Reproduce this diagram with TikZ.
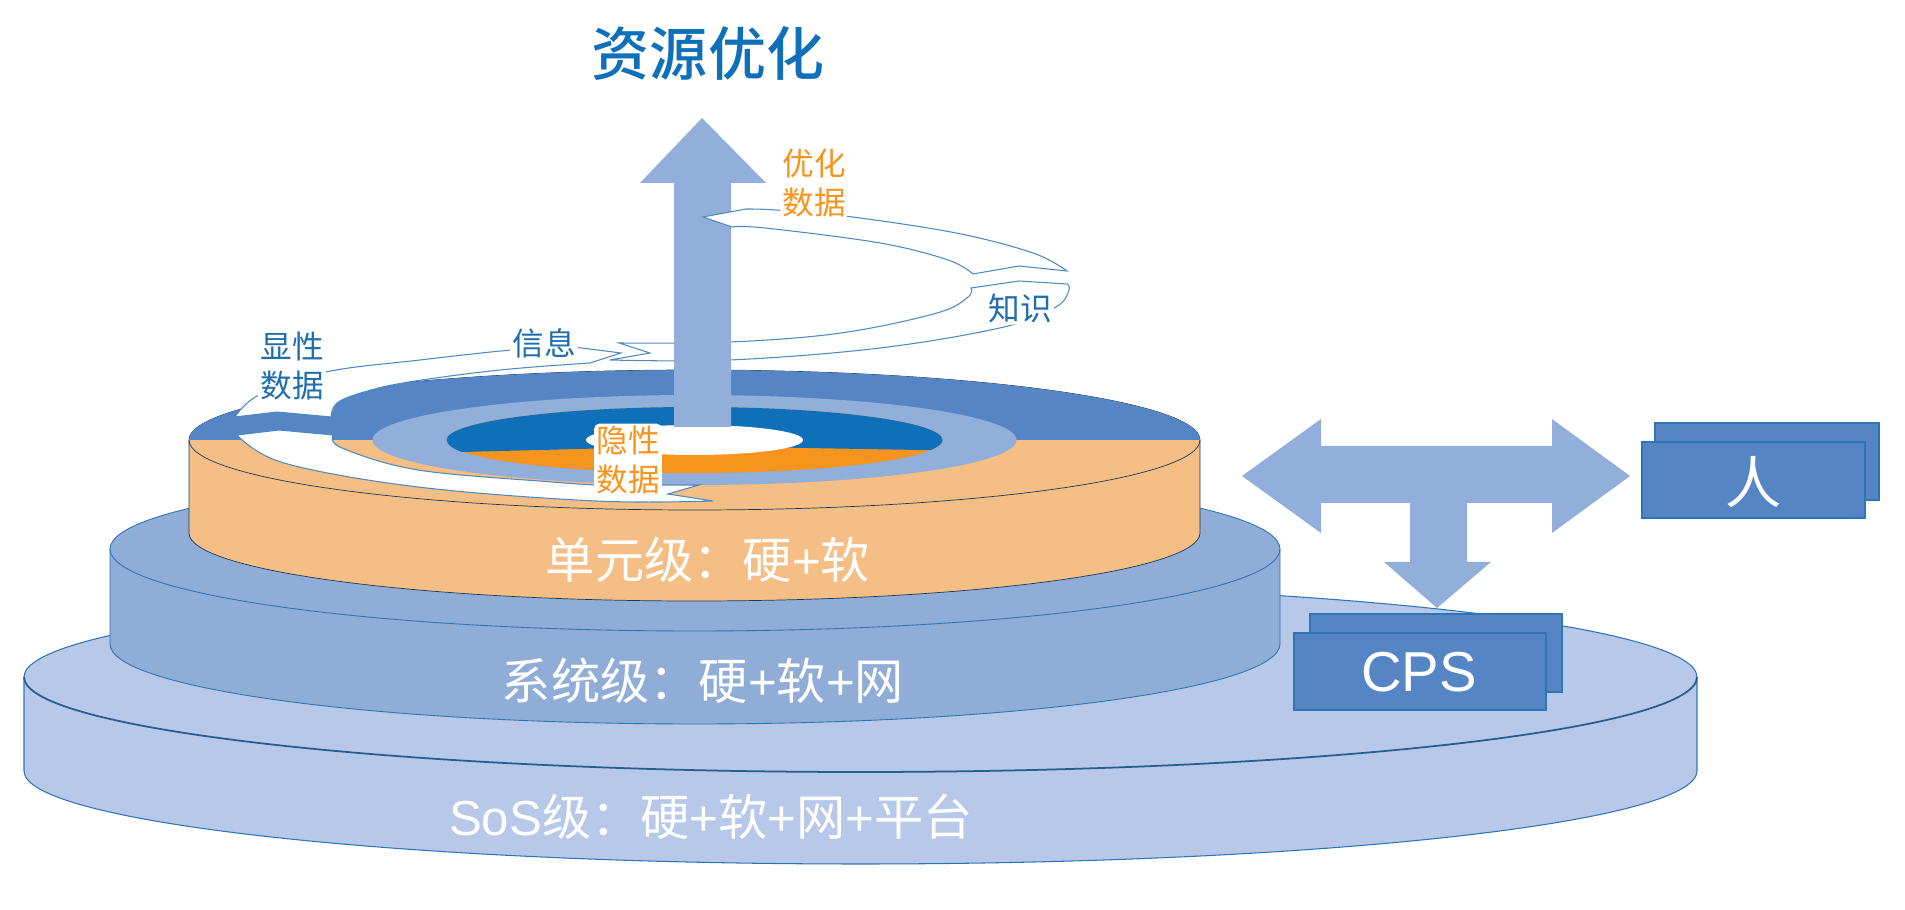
\documentclass[tikz,border=0pt]{standalone}
\usepackage{fontspec}
\setmainfont{Liberation Sans}
\newfontfamily\cjk{Noto Sans CJK SC}
\newfontfamily\cjkmid[UprightFont=* Medium]{Noto Sans CJK SC}
\usepackage{tikz}
\usetikzlibrary{calc}
\usetikzlibrary{positioning}
\definecolor{sosblue}{HTML}{B7C8E8}
\definecolor{sysblue}{HTML}{8FADD7}
\definecolor{unitorange}{HTML}{F4BE85}
\definecolor{ringblue}{HTML}{5585C5}
\definecolor{paleblue}{HTML}{92AEDA}
\definecolor{deepblue}{HTML}{0F70BA}
\definecolor{deeporange}{HTML}{F7941D}
\definecolor{edgeblue}{HTML}{2E75B6}
\definecolor{textblue}{HTML}{1F6EAD}
\tikzstyle{sosdisc}=[fill=sosblue, draw=edgeblue, line width=0.3pt]
\tikzstyle{sysdisc}=[fill=sysblue, draw=edgeblue, line width=0.25pt]
\tikzstyle{unitdisc}=[fill=unitorange, draw=black!50!edgeblue, line width=0.2pt]
\tikzstyle{frontarc}=[draw=edgeblue!80!black, line width=0.5pt]
\tikzstyle{band}=[fill=white, draw=edgeblue!85, line width=0.3pt, line join=miter]
\tikzstyle{bigarrow}=[fill=paleblue, draw=none]
\tikzstyle{box}=[fill=ringblue, draw=edgeblue, line width=0.45pt]
\tikzstyle{levellabel}=[text=white, font=\fontsize{14}{16}\selectfont, inner sep=0pt]
\tikzstyle{boxlabel}=[text=white, font=\fontsize{16}{18}\selectfont, inner sep=0pt]
\tikzstyle{bluelabel}=[text=textblue, fill=white, align=center, inner sep=0.6pt, rounded corners=1.5pt, font=\cjk\fontsize{9}{11.2}\selectfont]
\tikzstyle{orangelabel}=[bluelabel, text=deeporange]
\begin{document}
\begin{tikzpicture}[x=0.01cm,y=-0.01cm]
\useasboundingbox (0,0) rectangle (1905,910);

% three stacked discs
\path[sosdisc] (24,677) -- (24,771) arc[start angle=180,end angle=0,x radius=836.5,y radius=93] -- (1697,677) arc[start angle=0,end angle=-180,x radius=836.5,y radius=94] -- cycle;
\draw[frontarc] (24,677) arc[start angle=180,end angle=0,x radius=836.5,y radius=95];
\path[sysdisc] (110,549) -- (110,644) arc[start angle=180,end angle=0,x radius=585,y radius=80] -- (1280,549) arc[start angle=0,end angle=-180,x radius=585,y radius=81] -- cycle;
\draw[sysdisc, fill=none] (110,549) arc[start angle=180,end angle=0,x radius=585,y radius=82];
\path[unitdisc] (189,440) -- (189,533) arc[start angle=180,end angle=0,x radius=505.5,y radius=68] -- (1200,440) arc[start angle=0,end angle=-180,x radius=505.5,y radius=70] -- cycle;
\draw[unitdisc, fill=none] (189,440) arc[start angle=180,end angle=0,x radius=505.5,y radius=70];

% rings on the top disc
\fill[ringblue] (189,440) arc[start angle=180,end angle=360,x radius=505.5,y radius=70] -- cycle;
\fill[paleblue] (694.5,440) ellipse[x radius=322,y radius=45];
\fill[deeporange] (694.5,440) ellipse[x radius=248,y radius=33];
\fill[deepblue] (446.5,440) arc[start angle=180,end angle=360,x radius=248,y radius=33] -- (942.5,440) arc[start angle=0,end angle=18,x radius=248,y radius=33] -- (694.5,446) -- (462,452) arc[start angle=160,end angle=180,x radius=248,y radius=33] -- cycle;
\fill[white] (694.5,440) ellipse[x radius=108.5,y radius=15];

% spiral, lower part
\draw[band] (237,435) -- (279,430) -- (333,435) -- plot[smooth,tension=0.6] coordinates {(333,435) (342,448) (418,470) (552,482) (596,485)} -- (699,485) -- (668,494) -- (713,501) -- plot[smooth,tension=0.6] coordinates {(713,501) (596,501) (418,487) (284,463) (237,435)} -- cycle;
% spiral, upper part and second turn
\draw[band] (235,417) -- (277,412) -- (331,417) -- plot[smooth,tension=0.6] coordinates {(331,417) (337,403) (364,392) (409,382) (500,370) (590,363)} -- (621,353) -- plot[smooth,tension=0.6] coordinates {(574,347) (512,350) (420,360) (326,372) (259,395) (235,417)} -- cycle;
\draw[band] (619,343) -- (650,353) -- (610,360) -- plot[smooth,tension=0.6] coordinates {(610,360) (730,360) (880,348) (1004,327) (1056,307) (1069,290) (1067,284)} -- (1019,281) -- (971,288) -- plot[smooth,tension=0.6] coordinates {(971,288) (968,297) (937,313) (841,333) (730,342) (619,343)} -- cycle;

% arrows
\path[bigarrow] (674,427) -- (674,183) -- (640,183) -- (702,118) -- (766,183) -- (731,183) -- (731,427) -- cycle;
\path[bigarrow] (1242,476) -- (1321,419) -- (1321,446) -- (1552,446) -- (1552,419) -- (1630,476) -- (1552,533) -- (1552,503) -- (1467,503) -- (1467,562) -- (1491,562) -- (1437,608) -- (1384,562) -- (1410,562) -- (1410,503) -- (1321,503) -- (1321,533) -- cycle;

% third turn lies over the arrow
\draw[band] (703,217) -- plot[smooth,tension=0.6] coordinates {(746,209) (776,210) (845,216) (956,233) (1033,253) (1067,271)} -- (1019,266) -- (973,274) -- plot[smooth,tension=0.6] coordinates {(973,274) (948,260) (880,243) (765,228) (732,227)} -- cycle;

% boxes
\path[box] (1310,614) rectangle (1562,692);
\path[box] (1294,633) rectangle (1546,710);
\path[box] (1655,423) rectangle (1879,500);
\path[box] (1642,442) rectangle (1865,518);

% texts
\node[text=deepblue, inner sep=0pt, font=\cjkmid\fontsize{16.5}{19}\selectfont](resourceOpt) at (708,53){资源优化};
\node[bluelabel](explicitData) at (292,366){显性\\数据};
\node[bluelabel](infoLabel) at (544,343){信息};
\node[bluelabel](knowledge) at (1020,308){知识};
\node[orangelabel](optData) at (814,183){优化\\数据};
\node[orangelabel](implicitData) at (628,460){隐性\\数据};
\node[levellabel](unitLevel) at (708,560){{\cjk 单元级：硬}+{\cjk 软}};
\node[levellabel](sysLevel) at (703,681){{\cjk 系统级：硬}+{\cjk 软}+{\cjk 网}};
\node[levellabel](sosLevel) at (711,817){SoS{\cjk 级：硬}+{\cjk 软}+{\cjk 网}+{\cjk 平台}};
\node[boxlabel](cpsLabel) at (1419,672){CPS};
\node[boxlabel](humanLabel) at (1754,482){\cjk 人};

\end{tikzpicture}
\end{document}
